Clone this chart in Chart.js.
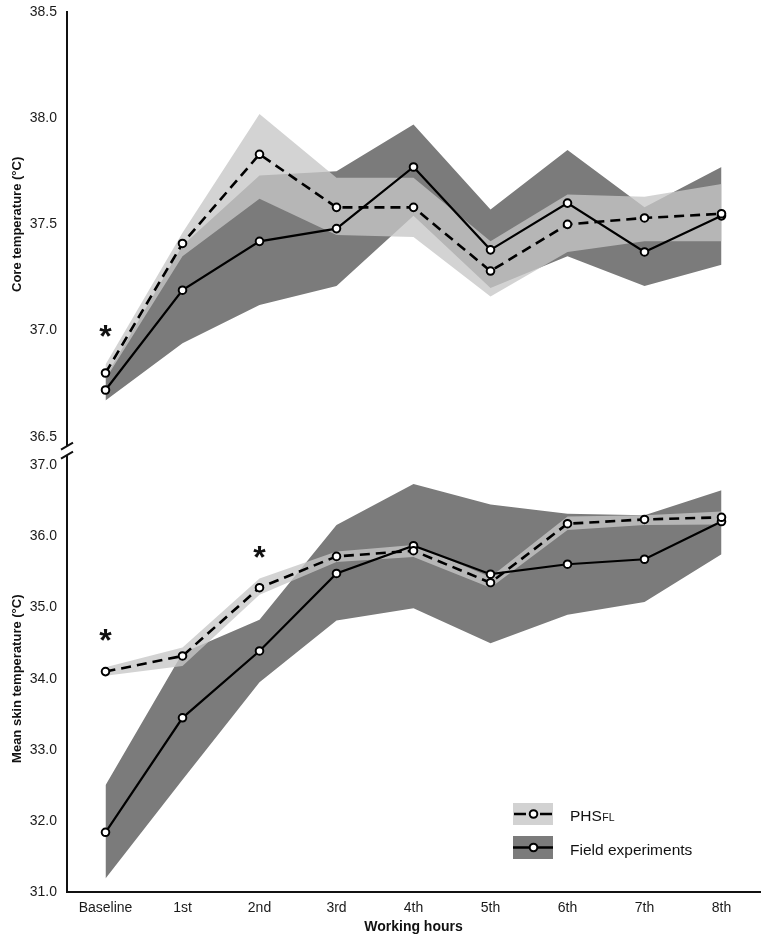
<!DOCTYPE html>
<html>
<head>
<meta charset="utf-8">
<script src="https://cdn.jsdelivr.net/npm/chart.js@4.4.1/dist/chart.umd.min.js"></script>
<style>
  html, body { margin: 0; padding: 0; background: #fff; }
  #wrap { width: 766px; height: 940px; }
</style>
</head>
<body>
<div id="wrap"><canvas id="tempChart" width="766" height="940"></canvas></div>
<script>
// categories
const hours = ['Baseline', '1st', '2nd', '3rd', '4th', '5th', '6th', '7th', '8th'];

// core temperature (°C)
const coreModel   = [36.80, 37.41, 37.83, 37.58, 37.58, 37.28, 37.50, 37.53, 37.55];
const coreModelHi = [36.84, 37.46, 38.02, 37.72, 37.72, 37.42, 37.64, 37.63, 37.69];
const coreModelLo = [36.77, 37.35, 37.62, 37.45, 37.44, 37.16, 37.37, 37.42, 37.42];
const coreField   = [36.72, 37.19, 37.42, 37.48, 37.77, 37.38, 37.60, 37.37, 37.54];
const coreFieldHi = [36.78, 37.40, 37.73, 37.75, 37.97, 37.57, 37.85, 37.58, 37.77];
const coreFieldLo = [36.67, 36.94, 37.12, 37.21, 37.54, 37.20, 37.35, 37.21, 37.31];

// mean skin temperature (°C)
const skinModel   = [34.10, 34.32, 35.28, 35.72, 35.80, 35.35, 36.18, 36.24, 36.27];
const skinModelHi = [34.16, 34.44, 35.41, 35.79, 35.88, 35.43, 36.28, 36.30, 36.35];
const skinModelLo = [34.04, 34.18, 35.18, 35.64, 35.71, 35.28, 36.09, 36.16, 36.17];
const skinField   = [31.84, 33.45, 34.39, 35.48, 35.87, 35.47, 35.61, 35.68, 36.21];
const skinFieldHi = [32.50, 34.36, 34.83, 36.16, 36.74, 36.45, 36.32, 36.30, 36.65];
const skinFieldLo = [31.19, 32.58, 33.95, 34.82, 34.99, 34.50, 34.90, 35.08, 35.75];

// tick labels
const coreTicks = [36.5, 37.0, 37.5, 38.0, 38.5];
const skinTicks = [31, 32, 33, 34, 35, 36, 37];

// significance marks (axis, category index, value)
const stars = [
  { axis: 'yCore', index: 0, value: 36.99 },
  { axis: 'ySkin', index: 0, value: 34.59 },
  { axis: 'ySkin', index: 2, value: 35.77 }
];

const DARK = '#7b7b7b';
const LIGHT = 'rgba(198,198,198,0.78)';
const INK = '#111';

Chart.defaults.font.family = '"Liberation Sans", Arial, sans-serif';
Chart.defaults.color = '#1a1a1a';

function bandPair(axis, lo, hi, color, order) {
  return [
    { data: lo, yAxisID: axis, borderWidth: 0, pointRadius: 0, fill: false, order: order + 1 },
    { data: hi, yAxisID: axis, borderWidth: 0, pointRadius: 0, fill: '-1', backgroundColor: color, order: order }
  ];
}

function meanLine(axis, data, dashed, order) {
  return {
    data: data, yAxisID: axis, order: order,
    borderColor: '#000', borderWidth: dashed ? 2.6 : 2.2,
    borderDash: dashed ? [10, 6] : [],
    pointRadius: 3.8, pointBorderWidth: 2,
    pointBackgroundColor: '#fff', pointBorderColor: '#000',
    fill: false, tension: 0
  };
}

// axis break, asterisks and legend
const extras = {
  id: 'extras',
  afterDraw(chart) {
    const { ctx, chartArea, scales } = chart;
    const x0 = chartArea.left;
    const top = scales.yCore.bottom, bot = scales.ySkin.top;
    const mid = (top + bot) / 2;
    const g1 = mid - 5, g2 = mid + 4;
    ctx.save();
    ctx.strokeStyle = INK;
    ctx.lineWidth = 2;
    ctx.beginPath();
    ctx.moveTo(x0, top); ctx.lineTo(x0, g1);
    ctx.moveTo(x0, g2); ctx.lineTo(x0, bot);
    ctx.stroke();
    ctx.beginPath();
    ctx.moveTo(x0 - 6, g1 + 3.5); ctx.lineTo(x0 + 6, g1 - 3.5);
    ctx.moveTo(x0 - 6, g2 + 3.5); ctx.lineTo(x0 + 6, g2 - 3.5);
    ctx.stroke();

    // asterisks
    ctx.fillStyle = INK;
    ctx.textAlign = 'center';
    ctx.textBaseline = 'alphabetic';
    const fs = 32;
    ctx.font = 'bold ' + fs + 'px "Liberation Sans", Arial, sans-serif';
    stars.forEach(s => {
      const x = scales.x.getPixelForValue(s.index);
      const y = scales[s.axis].getPixelForValue(s.value);
      ctx.fillText('*', x, y + 0.46 * fs);
    });

    // legend
    const lx = 513, bw = 40;
    const rows = [
      { y: 803, h: 22, color: '#d2d2d2', dashed: true },
      { y: 836, h: 23, color: DARK, dashed: false }
    ];
    rows.forEach(r => {
      ctx.fillStyle = r.color;
      ctx.fillRect(lx, r.y, bw, r.h);
      const cy = r.y + r.h / 2;
      const cx = lx + 20.5;
      ctx.strokeStyle = '#000';
      ctx.lineWidth = 2.4;
      ctx.beginPath();
      if (r.dashed) {
        ctx.moveTo(lx + 1, cy); ctx.lineTo(lx + 13, cy);
        ctx.moveTo(lx + 27, cy); ctx.lineTo(lx + 39, cy);
      } else {
        ctx.moveTo(lx, cy); ctx.lineTo(lx + bw, cy);
      }
      ctx.stroke();
      ctx.beginPath();
      ctx.arc(cx, cy, 3.8, 0, Math.PI * 2);
      ctx.fillStyle = '#fff';
      ctx.fill();
      ctx.lineWidth = 2;
      ctx.stroke();
    });
    ctx.fillStyle = INK;
    ctx.textAlign = 'left';
    ctx.font = '15.5px "Liberation Sans", Arial, sans-serif';
    ctx.fillText('PHS', 570, 821);
    const w = ctx.measureText('PHS').width;
    ctx.font = '10.5px "Liberation Sans", Arial, sans-serif';
    ctx.fillText('FL', 570 + w + 0.5, 821);
    ctx.font = '15.5px "Liberation Sans", Arial, sans-serif';
    ctx.fillText('Field experiments', 570, 855);
    ctx.restore();
  }
};

function yAxis(opts) {
  return Object.assign({
    type: 'linear',
    position: 'left',
    stack: 'temp',
    grid: { display: false, drawTicks: false },
    border: { display: true, color: INK, width: 2 },
    afterFit: s => {
      s.width = 67;
      s.paddingTop = 6;
      s.paddingBottom = 6;
    }
  }, opts);
}

new Chart(document.getElementById('tempChart'), {
  type: 'line',
  data: {
    labels: hours,
    datasets: [
      meanLine('yCore', coreModel, true, 0),
      meanLine('yCore', coreField, false, 1),
      ...bandPair('yCore', coreModelLo, coreModelHi, LIGHT, 2),
      ...bandPair('yCore', coreFieldLo, coreFieldHi, DARK, 4),
      meanLine('ySkin', skinModel, true, 0),
      meanLine('ySkin', skinField, false, 1),
      ...bandPair('ySkin', skinModelLo, skinModelHi, LIGHT, 2),
      ...bandPair('ySkin', skinFieldLo, skinFieldHi, DARK, 4)
    ]
  },
  options: {
    responsive: false,
    animation: false,
    layout: { padding: { top: 12, right: 6, left: 0, bottom: 0 } },
    plugins: { legend: { display: false }, tooltip: { enabled: false } },
    scales: {
      x: {
        type: 'category',
        offset: true,
        grid: { display: false, drawTicks: false },
        border: { display: true, color: INK, width: 2 },
        ticks: { font: { size: 14 }, padding: 8, maxRotation: 0 },
        title: { display: true, text: 'Working hours', color: INK, font: { size: 14, weight: 'bold' }, padding: { top: 2, bottom: 4 } },
        afterFit: s => { s.height = 48; }
      },
      yCore: yAxis({
        weight: 3, stackWeight: 424.7,
        min: 36.5, max: 38.5,
        afterBuildTicks: s => { s.ticks = coreTicks.map(v => ({ value: v })); },
        ticks: { font: { size: 14 }, padding: 10, callback: v => Number(v).toFixed(1) },
        title: { display: true, text: 'Core temperature (°C)', color: INK, font: { size: 13, weight: 'bold' }, padding: { top: 10, bottom: 0 } }
      }),
      yGap: yAxis({
        weight: 2, stackWeight: 28.7,
        min: 0, max: 1,
        ticks: { display: false },
        border: { display: false }
      }),
      ySkin: yAxis({
        weight: 1, stackWeight: 426.6,
        min: 31, max: 37,
        afterBuildTicks: s => { s.ticks = skinTicks.map(v => ({ value: v })); },
        ticks: { font: { size: 14 }, padding: 10, callback: v => Number(v).toFixed(1) },
        title: { display: true, text: 'Mean skin temperature (°C)', color: INK, font: { size: 13, weight: 'bold' }, padding: { top: 10, bottom: 0 } }
      })
    }
  },
  plugins: [extras]
});
</script>
</body>
</html>
